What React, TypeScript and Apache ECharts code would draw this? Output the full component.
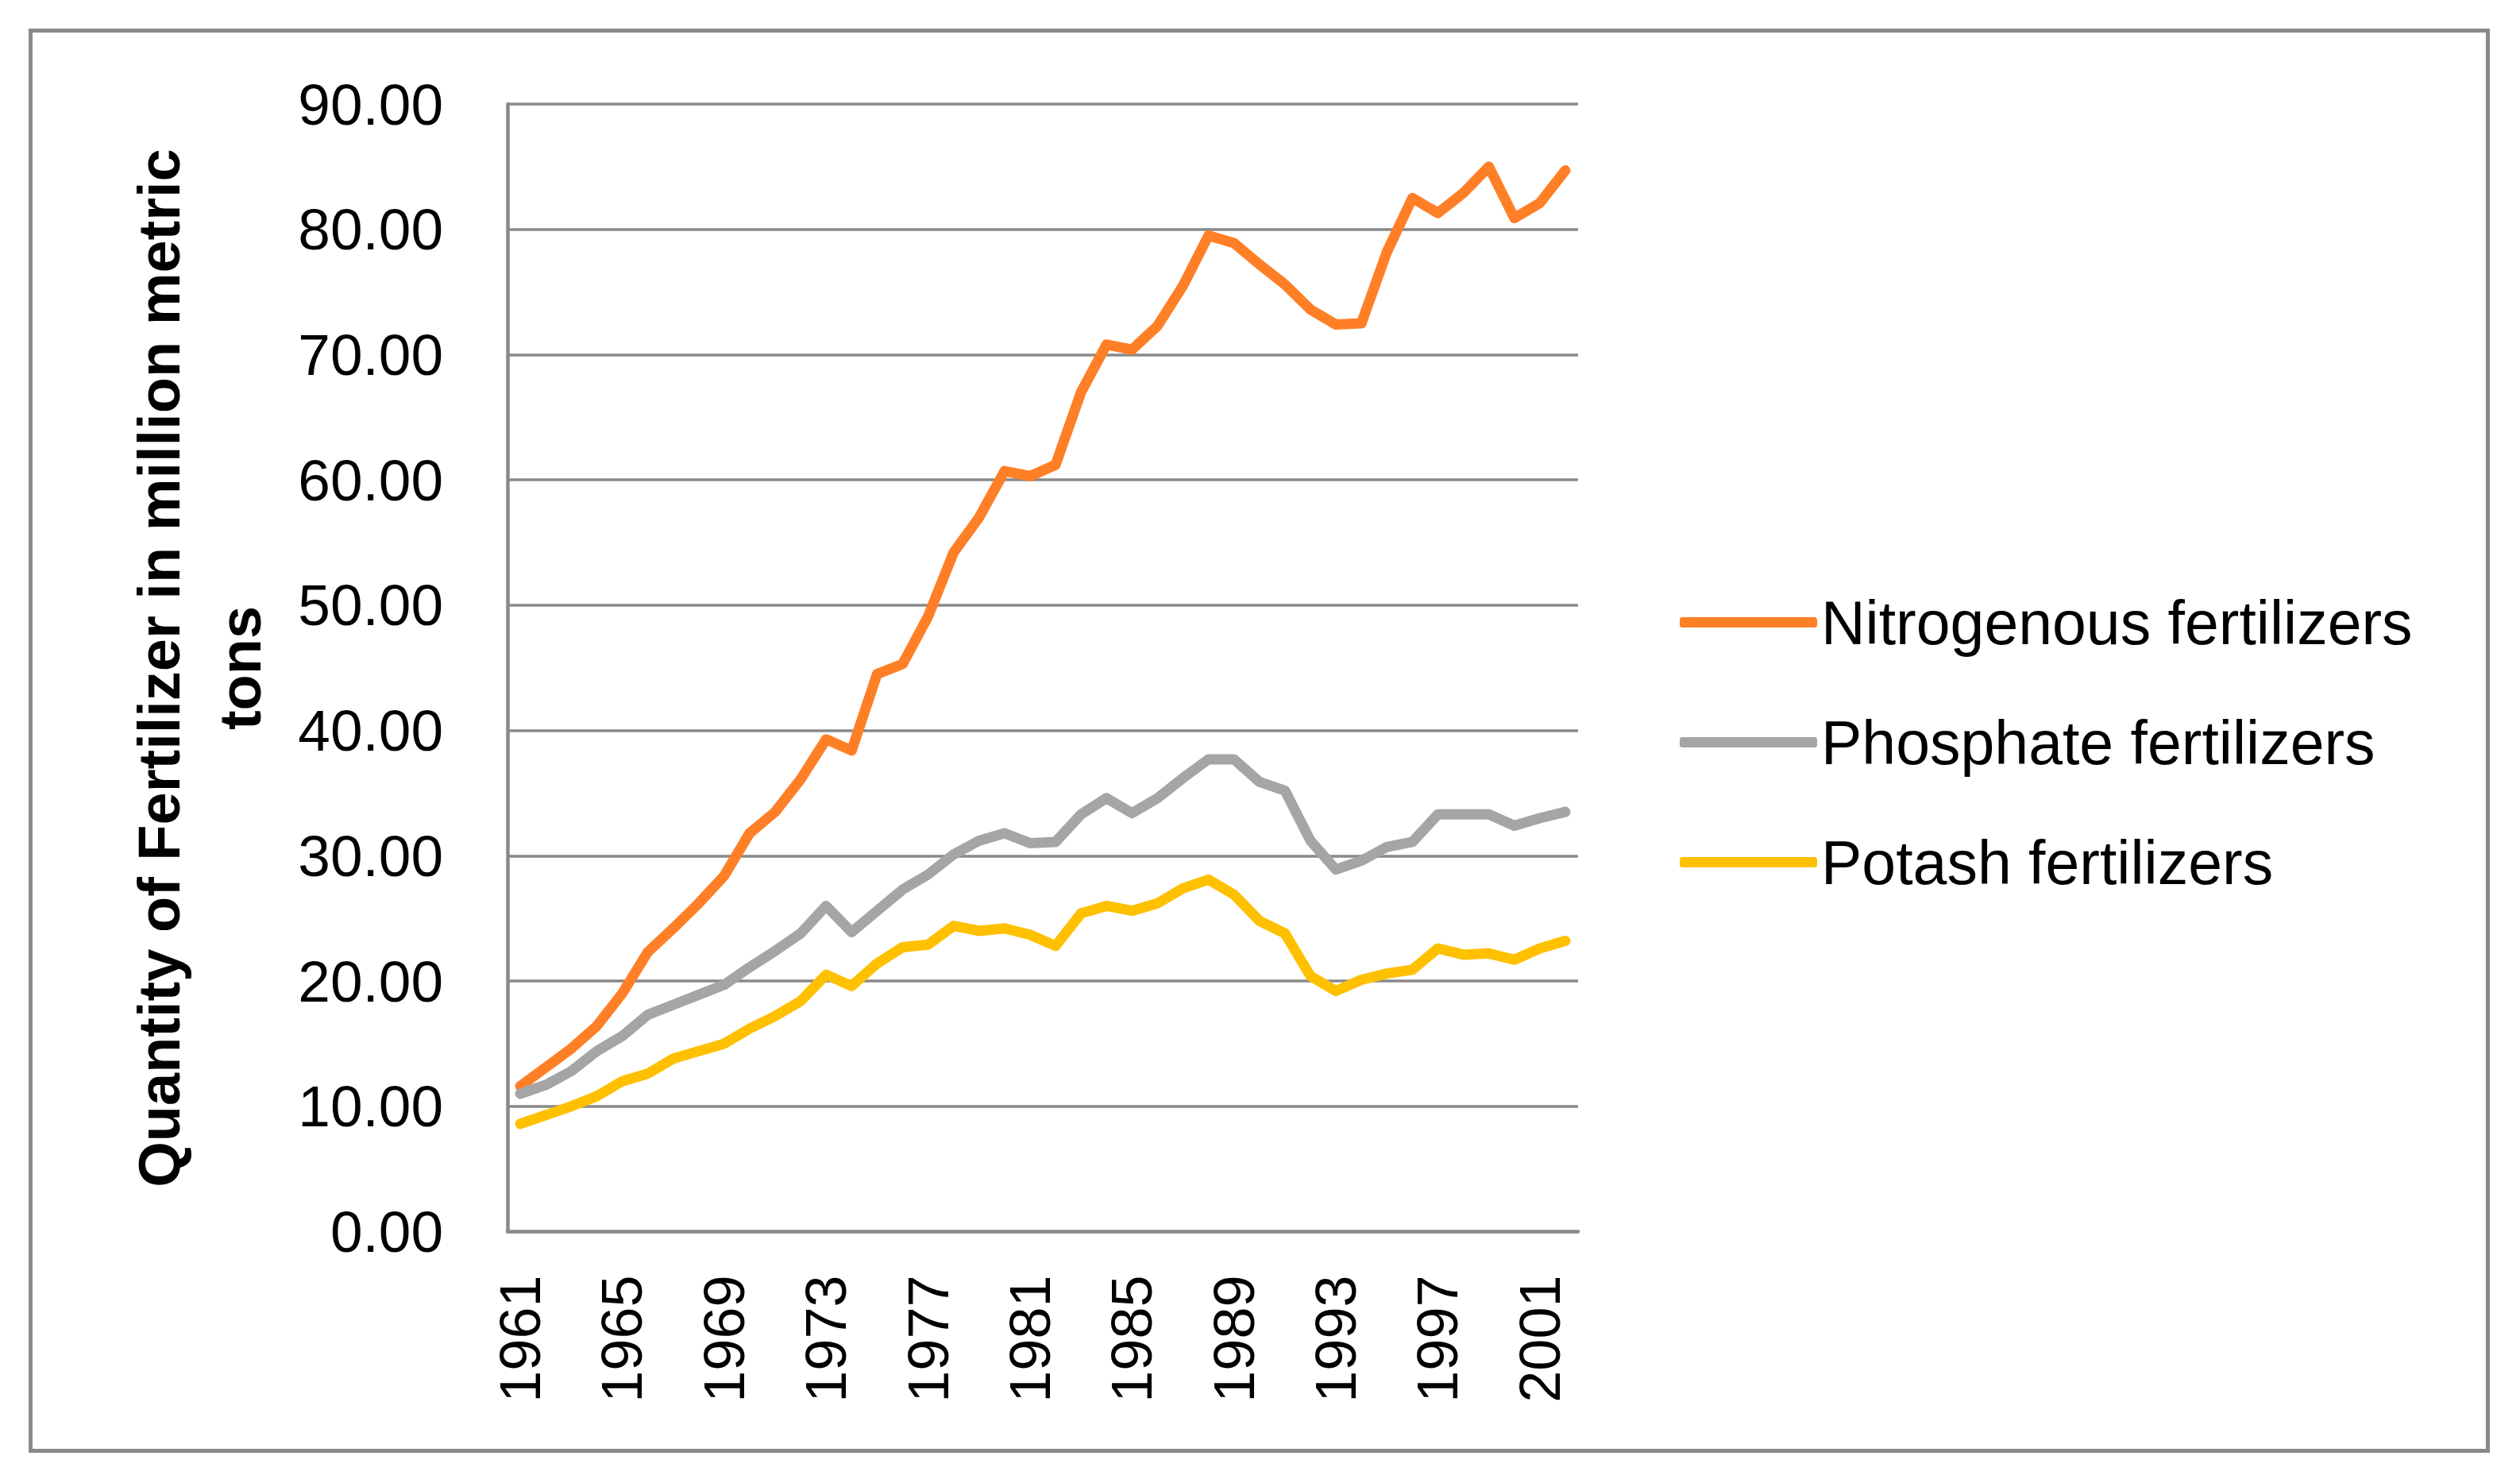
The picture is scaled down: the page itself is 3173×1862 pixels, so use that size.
import React, { useEffect, useRef } from "react";
import * as echarts from "echarts";

const years: string[] = [];
for (let y = 1961; y <= 2002; y++) years.push(String(y));

const nitrogenous = [
  11.6, 13.1, 14.6, 16.4, 19.0, 22.3, 24.2, 26.2, 28.4, 31.8,
  33.5, 36.1, 39.3, 38.4, 44.5, 45.3, 49.1, 54.2, 57.0, 60.7,
  60.3, 61.2, 67.0, 70.8, 70.4, 72.3, 75.5, 79.5, 78.9, 77.2,
  75.6, 73.6, 72.4, 72.5, 78.2, 82.5, 81.3, 82.9, 85.0, 80.9,
  82.1, 84.7,
];

const phosphate = [
  11.0, 11.7, 12.8, 14.4, 15.6, 17.3, 18.1, 18.9, 19.7, 21.1,
  22.4, 23.8, 26.0, 23.9, 25.6, 27.3, 28.5, 30.1, 31.2, 31.8,
  31.0, 31.1, 33.3, 34.6, 33.4, 34.6, 36.2, 37.7, 37.7, 35.9,
  35.2, 31.2, 28.9, 29.6, 30.7, 31.1, 33.3, 33.3, 33.3, 32.4,
  33.0, 33.5,
];

const potash = [
  8.6, 9.3, 10.0, 10.8, 12.0, 12.6, 13.8, 14.4, 15.0, 16.2,
  17.2, 18.4, 20.5, 19.6, 21.4, 22.7, 22.9, 24.4, 24.0, 24.2,
  23.7, 22.8, 25.4, 26.0, 25.6, 26.2, 27.4, 28.1, 26.9, 24.8,
  23.8, 20.4, 19.2, 20.1, 20.6, 20.9, 22.6, 22.1, 22.2, 21.7,
  22.6, 23.2,
];

const seriesNames = ["Nitrogenous fertilizers", "Phosphate fertilizers", "Potash fertilizers"];
const seriesColors = ["#FF7F27", "#A5A5A5", "#FFC000"];
const titleLine1 = "Quantity of Fertilizer in million metric";
const titleLine2 = "tons";

const FONT = "'Liberation Sans', Arial, sans-serif";

export default function App() {
  const ref = useRef<HTMLDivElement>(null);

  useEffect(() => {
    if (!ref.current) return;
    const chart = echarts.init(ref.current, undefined, { renderer: "svg" });
    const dataSets = [nitrogenous, phosphate, potash];
    chart.setOption({
      animation: false,
      backgroundColor: "#ffffff",
      textStyle: { fontFamily: FONT },
      grid: { left: 639, top: 131, width: 1348, height: 1419.5, containLabel: false },
      xAxis: {
        type: "category",
        data: years,
        boundaryGap: true,
        axisLine: { show: true, lineStyle: { color: "#898989", width: 4.5 } },
        axisTick: { show: false },
        axisLabel: {
          interval: 3,
          rotate: 90,
          margin: 55,
          fontSize: 72,
          color: "#000000",
          fontFamily: FONT,
        },
        splitLine: { show: false },
      },
      yAxis: {
        type: "value",
        min: 0,
        max: 90,
        interval: 10,
        axisLine: { show: true, lineStyle: { color: "#898989", width: 4.5 } },
        axisTick: { show: false },
        axisLabel: {
          margin: 81,
          fontSize: 73,
          color: "#000000",
          fontFamily: FONT,
          formatter: (v: number) => v.toFixed(2),
        },
        splitLine: { show: true, lineStyle: { color: "#898989", width: 3.5 } },
      },
      legend: {
        orient: "vertical",
        left: 2110,
        top: 740,
        itemWidth: 173,
        itemHeight: 13,
        itemGap: 74,
        icon: "roundRect",
        textStyle: { fontSize: 77, color: "#000000", fontFamily: FONT, lineHeight: 77, padding: [0, 0, 0, 0] },
        data: seriesNames,
      },
      series: seriesNames.map((name, i) => ({
        name,
        type: "line",
        data: dataSets[i],
        symbol: "none",
        smooth: false,
        itemStyle: { color: seriesColors[i] },
        lineStyle: { color: seriesColors[i], width: 13, cap: "round", join: "round" },
      })),
      graphic: [
        {
          type: "rect",
          shape: { x: 38.5, y: 38.5, width: 3094, height: 1788 },
          style: { fill: "none", stroke: "#898989", lineWidth: 5 },
        },
        {
          type: "text",
          x: 200,
          y: 841,
          rotation: Math.PI / 2,
          style: {
            text: titleLine1,
            fontSize: 74,
            fontWeight: "bold",
            fontFamily: FONT,
            fill: "#000000",
            align: "center",
            verticalAlign: "middle",
          },
        },
        {
          type: "text",
          x: 302,
          y: 841,
          rotation: Math.PI / 2,
          style: {
            text: titleLine2,
            fontSize: 74,
            fontWeight: "bold",
            fontFamily: FONT,
            fill: "#000000",
            align: "center",
            verticalAlign: "middle",
          },
        },
      ],
    });
    return () => chart.dispose();
  }, []);

  return (
    <div
      ref={ref}
      style={{ position: "absolute", left: 0, top: 0, width: 3173, height: 1862, background: "#fff" }}
    />
  );
}
